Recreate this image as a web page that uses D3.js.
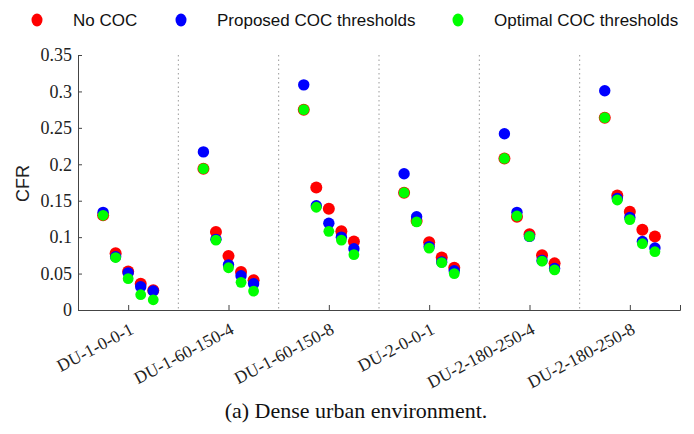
<!DOCTYPE html>
<html>
<head>
<meta charset="utf-8">
<title>CFR scatter</title>
<style>
  body { margin: 0; background: #fff; }
</style>
</head>
<body>
<div id="chart"></div>
<script src="https://d3js.org/d3.v7.min.js"></script>
<script>
// scenarios on the x axis
var categories = ['DU-1-0-0-1', 'DU-1-60-150-4', 'DU-1-60-150-8', 'DU-2-0-0-1', 'DU-2-180-250-4', 'DU-2-180-250-8'];
var yTicks = [0, 0.05, 0.1, 0.15, 0.2, 0.25, 0.3, 0.35];
var seriesNames = ['No COC', 'Proposed COC thresholds', 'Optimal COC thresholds'];
var seriesColors = ['#ff0000', '#0000ff', '#00ff00'];

// five points per scenario
var noCoc = [
  [0.130, 0.078, 0.053, 0.036, 0.027],
  [0.194, 0.107, 0.074, 0.052, 0.041],
  [0.275, 0.168, 0.139, 0.108, 0.094],
  [0.161, 0.122, 0.093, 0.072, 0.058],
  [0.208, 0.128, 0.104, 0.075, 0.064],
  [0.264, 0.157, 0.135, 0.110, 0.101]
];
var proposed = [
  [0.134, 0.073, 0.051, 0.032, 0.026],
  [0.217, 0.097, 0.062, 0.047, 0.036],
  [0.309, 0.143, 0.119, 0.100, 0.084],
  [0.187, 0.128, 0.087, 0.066, 0.054],
  [0.242, 0.134, 0.101, 0.068, 0.057],
  [0.301, 0.153, 0.127, 0.094, 0.085]
];
var optimal = [
  [0.130, 0.072, 0.043, 0.021, 0.014],
  [0.194, 0.096, 0.058, 0.038, 0.026],
  [0.275, 0.141, 0.108, 0.096, 0.076],
  [0.161, 0.121, 0.085, 0.065, 0.050],
  [0.208, 0.129, 0.101, 0.067, 0.055],
  [0.264, 0.151, 0.124, 0.091, 0.080]
];

var W = 694, H = 434;
var plotL = 78, plotR = 680, plotT = 55, plotB = 310;
var serif = '"Liberation Serif", "DejaVu Serif", serif';
var sans = '"Liberation Sans", Arial, sans-serif';

var svg = d3.select('#chart').append('svg')
    .attr('width', W)
    .attr('height', H);

var x = d3.scaleLinear().domain([0.5, categories.length + 0.5]).range([plotL, plotR]);
var y = d3.scaleLinear().domain([0, 0.35]).range([plotB, plotT]);

// dotted separators between scenarios
svg.append('g').selectAll('line')
    .data(d3.range(1, categories.length))
    .enter().append('line')
    .attr('x1', function(d) { return x(d + 0.5); })
    .attr('x2', function(d) { return x(d + 0.5); })
    .attr('y1', plotT)
    .attr('y2', plotB)
    .attr('stroke', '#9a9a9a')
    .attr('stroke-width', 1)
    .attr('stroke-dasharray', '1.5,3');

// y axis
var yAxis = svg.append('g')
    .attr('transform', 'translate(' + plotL + ',0)')
    .call(d3.axisLeft(y).tickValues(yTicks).tickSize(-4).tickPadding(6)
      .tickFormat(function(d) { return d === 0 ? '0' : String(d); }));
yAxis.select('.domain').attr('stroke', '#444');
yAxis.selectAll('.tick line').attr('stroke', '#444');
yAxis.selectAll('.tick text')
    .attr('font-family', serif)
    .attr('font-size', 18)
    .attr('fill', '#222');

// x axis
var xAxis = svg.append('g')
    .attr('transform', 'translate(0,' + plotB + ')')
    .call(d3.axisBottom(x).tickValues(d3.range(1, categories.length + 1)).tickSize(-5)
      .tickFormat(function(d) { return categories[d - 1]; }));
xAxis.select('.domain').attr('stroke', '#444');
xAxis.selectAll('.tick line').attr('stroke', '#444');
xAxis.selectAll('.tick text')
    .attr('font-family', serif)
    .attr('font-size', 17.5)
    .attr('fill', '#222')
    .attr('text-anchor', 'end')
    .attr('dy', null)
    .attr('y', 0)
    .attr('transform', 'translate(6,23) rotate(-28)');

// points: red first, blue, then green on top
var allSeries = [noCoc, proposed, optimal];
var radii = [6, 5.7, 5.4];
allSeries.forEach(function(series, s) {
  var pts = [];
  series.forEach(function(vals, g) {
    vals.forEach(function(v, j) {
      pts.push({ pos: g + 1 + (j - 2) * 0.125, val: v });
    });
  });
  svg.append('g').selectAll('circle')
      .data(pts)
      .enter().append('circle')
      .attr('cx', function(d) { return x(d.pos); })
      .attr('cy', function(d) { return y(d.val); })
      .attr('r', radii[s])
      .attr('fill', seriesColors[s]);
});

// y label
svg.append('text')
    .attr('transform', 'translate(29,' + ((plotT + plotB) / 2 + 1) + ') rotate(-90)')
    .attr('text-anchor', 'middle')
    .attr('font-family', sans)
    .attr('font-size', 18)
    .attr('fill', '#222')
    .text('CFR');

// legend
var legendX = [37, 181, 458];
var legend = svg.append('g');
seriesNames.forEach(function(name, i) {
  legend.append('ellipse')
      .attr('cx', legendX[i])
      .attr('cy', 20)
      .attr('rx', 5.5)
      .attr('ry', 6.5)
      .attr('fill', seriesColors[i]);
  legend.append('text')
      .attr('x', legendX[i] + 36)
      .attr('y', 26)
      .attr('font-family', sans)
      .attr('font-size', 17)
      .attr('fill', '#111')
      .text(name);
});

// caption
svg.append('text')
    .attr('x', 356)
    .attr('y', 418)
    .attr('text-anchor', 'middle')
    .attr('font-family', serif)
    .attr('font-size', 22)
    .attr('fill', '#111')
    .text('(a) Dense urban environment.');
</script>
</body>
</html>
